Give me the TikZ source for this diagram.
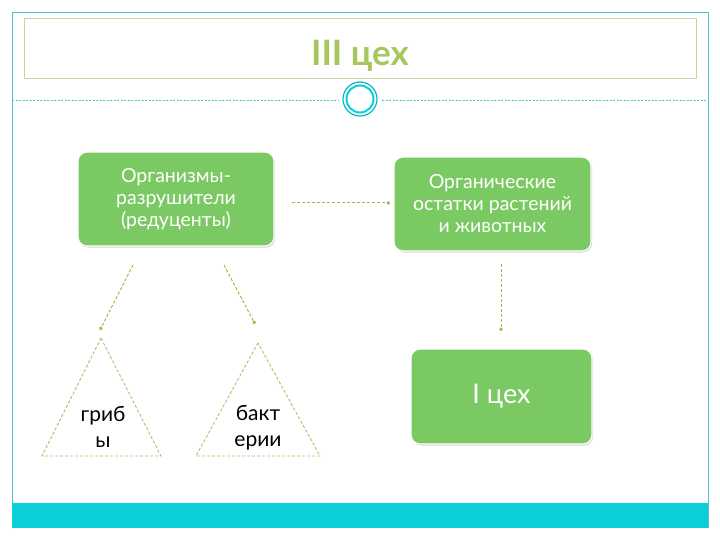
\documentclass[tikz,border=0pt]{standalone}
\usepackage{fontspec}
\setmainfont{Lato}
\usetikzlibrary{arrows.meta,shadows}
\definecolor{frameC}{HTML}{4FC3CC}
\definecolor{barC}{HTML}{0ACFD9}
\definecolor{titleC}{HTML}{A7C65E}
\definecolor{tboxC}{HTML}{C9D49C}
\definecolor{boxC}{HTML}{7BC962}
\definecolor{dashC}{HTML}{9DBA52}
\tikzset{
  gbox/.style={draw=white, line width=1.2pt, fill=boxC, rounded corners=9pt,
    text=white, align=center, font=\fontsize{19.5}{22}\selectfont,
    drop shadow={shadow xshift=1pt, shadow yshift=-1.5pt, opacity=0.35}},
  conn/.style={draw=dashC, line width=1pt, dash pattern=on 3pt off 2pt,
    -{Circle[length=3.5pt]}},
  tri/.style={draw=dashC!85!white, line width=0.9pt, dash pattern=on 3pt off 2pt},
  ttext/.style={font=\fontsize{21}{26}\selectfont, align=center, text=black}
}
\begin{document}
\begin{tikzpicture}[x=1pt,y=-1pt]
\useasboundingbox (0,0) rectangle (720,540);
\fill[white] (0,0) rectangle (720,540);
% frame
\draw[frameC, line width=0.8pt] (12,528) -- (12,12) -- (708,12) -- (708,528);
\fill[barC] (12,503) rectangle (708,528);
\draw[tboxC, line width=0.8pt] (24,18) rectangle (696,78);
\node[font=\bfseries\fontsize{35}{38}\selectfont, text=titleC] (title) at (360,56) {III цех};
% dashed rule and ring
\draw[frameC, line width=0.6pt, dash pattern=on 2pt off 1.5pt] (12,100) coordinate (dl) -- (338,100);
\draw[frameC, line width=0.6pt, dash pattern=on 2pt off 1.5pt] (382,100) -- (708,100);
\draw[barC!80!black!60!barC, line width=1.2pt] (360,99) circle (17);
\draw[barC, line width=2pt] (360,99) circle (13.5);
% boxes
\node[gbox, minimum width=196pt, minimum height=94pt] (a) at (176,199)
  {Организмы-\\разрушители\\(редуценты)};
\node[gbox, minimum width=197pt, minimum height=94pt] (b) at (492.5,204)
  {Органические\\остатки растений\\и животных};
\node[gbox, minimum width=181pt, minimum height=95pt, font=\fontsize{27}{30}\selectfont] (c) at (501.5,396.5)
  {I цех};
% triangles
\coordinate (t1a) at (101,338);
\coordinate (t1b) at (42,456);
\coordinate (t1c) at (161,456);
\draw[tri] (t1a) -- (t1b) -- (t1c) -- cycle;
\coordinate (t2a) at (258,343);
\coordinate (t2b) at (196,456);
\coordinate (t2c) at (320,456);
\draw[tri] (t2a) -- (t2b) -- (t2c) -- cycle;
\node[ttext] (g) at (103,427) {гриб\\ы};
\node[ttext] (bk) at (258,428) {бакт\\ерии};
% connectors
\coordinate (s1) at (292,203);
\coordinate (e1) at (390,203);
\draw[conn] (s1) -- (e1);
\coordinate (s2) at (501,264);
\coordinate (e2) at (501,331);
\draw[conn] (s2) -- (e2);
\coordinate (s3) at (133,265);
\coordinate (e3) at (100,330);
\draw[conn] (s3) -- (e3);
\coordinate (s4) at (224,265);
\coordinate (e4) at (255,324);
\draw[conn] (s4) -- (e4);
\end{tikzpicture}
\end{document}
